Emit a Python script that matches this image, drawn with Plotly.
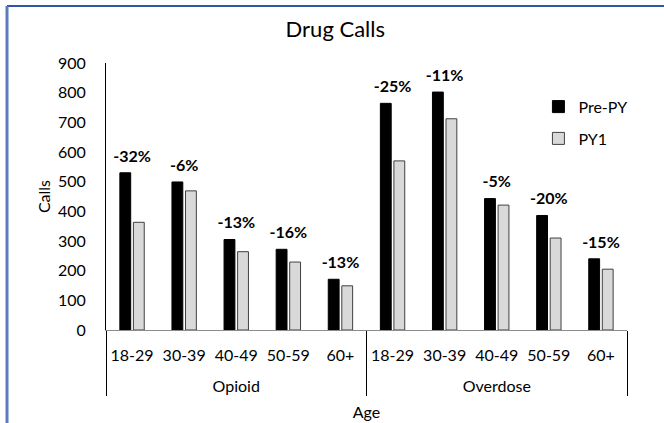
import plotly.graph_objects as go

groups = ["Opioid"] * 5 + ["Overdose"] * 5
ages = ["18-29", "30-39", "40-49", "50-59", "60+"] * 2
pre_py = [530, 499, 305, 272, 171, 764, 802, 443, 386, 240]
py1 = [363, 469, 264, 229, 149, 570, 712, 421, 310, 205]
change_labels = ["-32%", "-6%", "-13%", "-16%", "-13%", "-25%", "-11%", "-5%", "-20%", "-15%"]
y_ticks = [0, 100, 200, 300, 400, 500, 600, 700, 800, 900]

FONT = "Lato, 'Open Sans', sans-serif"

# age labels get an empty second line so the group row sits lower (Excel-like spacing)
age_labels = [a + "<br> " for a in ages]
xcats = [groups, age_labels]

fig = go.Figure()
fig.add_trace(go.Bar(
    x=xcats, y=pre_py, name="Pre-PY", legendgroup="a",
    marker=dict(color="#000000", line=dict(color="#000000", width=1)),
))
fig.add_trace(go.Bar(
    x=xcats, y=py1, name="PY1", legendgroup="b",
    marker=dict(color="#d9d9d9", line=dict(color="#404040", width=1)),
))
fig.add_trace(go.Scatter(
    x=xcats, y=[max(a, b) for a, b in zip(pre_py, py1)],
    mode="markers+text", text=change_labels, textposition="top center",
    marker=dict(size=10, color="rgba(0,0,0,0)"),
    textfont=dict(family=FONT, size=16, color="#000000", weight="bold"),
    showlegend=False, hoverinfo="skip", cliponaxis=False,
))

# frame border (top and left visible)
fig.add_shape(type="line", xref="paper", yref="paper", x0=-0.19, x1=1.08, y0=1.2135, y1=1.2135,
              line=dict(color="#2f55a4", width=2))
fig.add_shape(type="line", xref="paper", yref="paper", x0=-0.19, x1=-0.19, y0=1.2135, y1=-0.4,
              line=dict(color="#5b7cbf", width=3))

fig.update_layout(
    width=664, height=423,
    margin=dict(l=106, r=37, t=63, b=93, autoexpand=False),
    paper_bgcolor="white", plot_bgcolor="white",
    font=dict(family=FONT, size=16, color="#000000"),
    title=dict(text="Drug Calls", x=0.505, xanchor="center", y=0.93, yanchor="middle",
               font=dict(family=FONT, size=22, color="#000000")),
    barmode="group", bargap=0.48, bargroupgap=0.2,
    legend=dict(x=0.83, y=0.90, xanchor="left", yanchor="top", tracegroupgap=8,
                font=dict(family=FONT, size=16), bgcolor="rgba(0,0,0,0)"),
    xaxis=dict(
        type="multicategory", range=[-0.5, 9.5], showgrid=False, showline=True,
        linecolor="#8c8c8c", linewidth=1,
        ticks="", showdividers=True, dividercolor="#000000", dividerwidth=1,
        tickangle=0, automargin=False, ticklabelstandoff=11,
        tickfont=dict(family=FONT, size=16),
        title=dict(text="Age", font=dict(family=FONT, size=16), standoff=12),
    ),
    yaxis=dict(
        range=[0, 900], tickvals=y_ticks, showgrid=False, zeroline=False,
        showline=True, linecolor="#000000", linewidth=1, ticks="", automargin=False,
        ticklabelstandoff=16, tickfont=dict(family=FONT, size=16),
        title=dict(text="Calls", font=dict(family=FONT, size=16), standoff=3),
    ),
)

fig.write_html("out.html", config={"displayModeBar": False},
               post_script="document.body.style.margin='0';")
